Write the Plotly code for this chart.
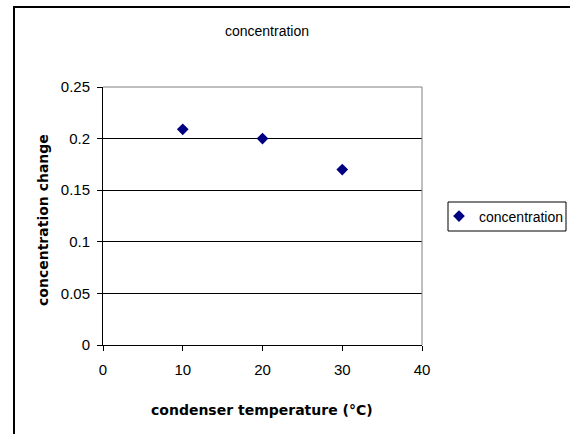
import plotly.graph_objects as go

# Data
temperature = [10, 20, 30]
concentration_change = [0.209, 0.2, 0.17]
series_name = "concentration"
chart_title = "concentration"
x_title = "condenser temperature (°C)"
y_title = "concentration change"
x_ticks = [0, 10, 20, 30, 40]
y_ticks = [0, 0.05, 0.1, 0.15, 0.2, 0.25]
y_tick_text = ["0", "0.05", "0.1", "0.15", "0.2", "0.25"]

W, H = 570, 434
L, R, T, B = 103, 148, 87, 89
pw, ph = W - L - R, H - T - B

def px_x(x):
    return (x - L) / pw

def px_y(y):
    return (H - B - y) / ph

FONT = "Liberation Sans, Arial, sans-serif"
BOLD_FONT = "DejaVu Sans, Arial, sans-serif"

fig = go.Figure()
fig.add_trace(go.Scatter(
    x=temperature, y=concentration_change, mode="markers", name=series_name,
    marker=dict(symbol="diamond", size=9, color="#000080"),
))

fig.update_layout(
    width=W, height=H,
    margin=dict(l=L, r=R, t=T, b=B, autoexpand=False),
    paper_bgcolor="white", plot_bgcolor="white",
    font=dict(family=FONT, size=15, color="black"),
    title=dict(text=chart_title, x=px_x(267), xref="paper", xanchor="center",
               y=1 - 31 / H, yref="container", yanchor="middle",
               font=dict(size=14, color="black")),
    showlegend=True,
    legend=dict(x=px_x(439), y=px_y(216.5), xanchor="left", yanchor="middle",
                borderwidth=0, bgcolor="rgba(0,0,0,0)",
                font=dict(size=14), itemwidth=30),
    xaxis=dict(range=[0, 40], tickvals=x_ticks, ticks="outside", ticklen=5,
               tickcolor="black", showline=True, linecolor="black", linewidth=1,
               showgrid=False, zeroline=False, ticklabelstandoff=6,
               tickfont=dict(size=15)),
    yaxis=dict(range=[0, 0.25], tickvals=y_ticks, ticktext=y_tick_text,
               ticks="outside", ticklen=5, tickcolor="black",
               showline=True, linecolor="black", linewidth=1,
               showgrid=True, gridcolor="black", gridwidth=1, zeroline=False,
               ticklabelstandoff=4, tickfont=dict(size=15)),
    annotations=[
        dict(text="<b>" + x_title + "</b>", x=px_x(262), y=px_y(410),
             xref="paper", yref="paper", showarrow=False,
             xanchor="center", yanchor="middle",
             font=dict(family=BOLD_FONT, size=14)),
        dict(text="<b>" + y_title + "</b>", x=px_x(43), y=px_y(220),
             xref="paper", yref="paper", showarrow=False, textangle=-90,
             xanchor="center", yanchor="middle",
             font=dict(family=BOLD_FONT, size=14)),
    ],
    shapes=[
        # gray top and right plot border
        dict(type="line", xref="paper", yref="paper", x0=0, x1=1, y0=1, y1=1,
             line=dict(color="#808080", width=1)),
        dict(type="line", xref="paper", yref="paper", x0=1, x1=1, y0=0, y1=1,
             line=dict(color="#808080", width=1)),
        # legend box
        dict(type="rect", xref="paper", yref="paper",
             x0=px_x(448), x1=px_x(566), y0=px_y(202), y1=px_y(231),
             line=dict(color="black", width=1), fillcolor="rgba(0,0,0,0)"),
        # outer chart frame (extends past the visible page)
        dict(type="rect", xref="paper", yref="paper",
             x0=px_x(14), x1=px_x(580), y0=px_y(7), y1=px_y(445),
             line=dict(color="black", width=2), fillcolor="rgba(0,0,0,0)"),
    ],
)

fig.write_html("out.html")
